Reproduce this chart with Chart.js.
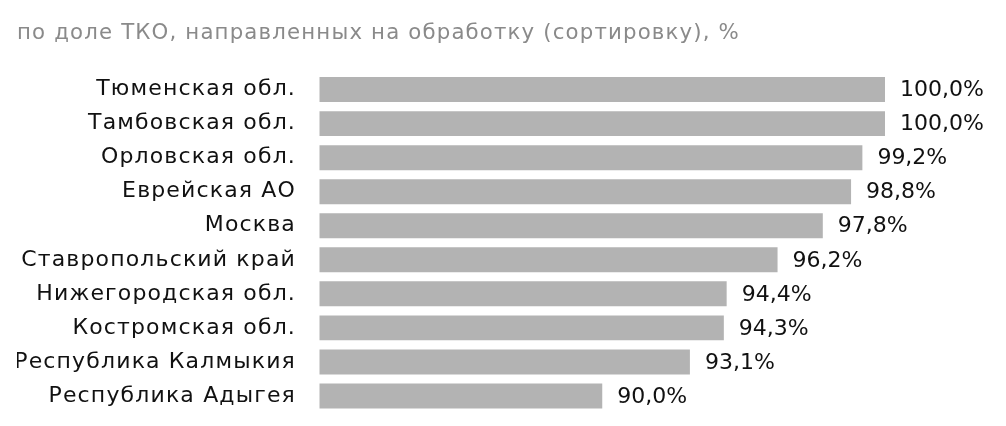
<!DOCTYPE html>
<html><head><meta charset="utf-8">
<script src="https://cdn.jsdelivr.net/npm/chart.js@4"></script>
<style>html,body{margin:0;padding:0;background:#fff;overflow:hidden}#wrap{width:1006px;height:426px;position:relative}</style>
</head><body><div id="wrap"><canvas id="c"></canvas></div>
<script>
const categories = ["Тюменская обл.","Тамбовская обл.","Орловская обл.","Еврейская АО","Москва","Ставропольский край","Нижегородская обл.","Костромская обл.","Республика Калмыкия","Республика Адыгея"];
const values = [100.0,100.0,99.2,98.8,97.8,96.2,94.4,94.3,93.1,90.0];
const titleText = "по доле ТКО, направленных на обработку (сортировку), %";

const FONT = 'DejaVu Sans';
const spacing = {
  id: 'spacing',
  beforeDraw(chart) { chart.ctx.letterSpacing = '1.15px'; },
  afterDraw(chart) { chart.ctx.letterSpacing = '0px'; }
};
const valueLabels = {
  id: 'valueLabels',
  afterDatasetsDraw(chart) {
    const ctx = chart.ctx; const meta = chart.getDatasetMeta(0);
    ctx.save(); ctx.letterSpacing = '0px'; ctx.font = '22px "'+FONT+'"'; ctx.fillStyle = '#111'; ctx.textBaseline = 'middle'; ctx.textAlign = 'left';
    meta.data.forEach((el, i) => { ctx.fillText(values[i].toFixed(1).replace('.', ',') + '%', el.x + 15, el.y + 1); });
    ctx.restore();
  }
};
new Chart(document.getElementById('c'), {
  type: 'bar',
  data: { labels: categories, datasets: [{ data: values, backgroundColor: '#b3b3b3', borderWidth: 0, barPercentage: 0.733, categoryPercentage: 1 }] },
  options: {
    indexAxis: 'y', responsive: true, maintainAspectRatio: false, animation: false,
    layout: { padding: { left: 17, right: 121, top: 0, bottom: 13 } },
    plugins: {
      legend: { display: false }, tooltip: { enabled: false },
      title: { display: true, text: titleText, align: 'start', color: '#8a8a8a', font: { family: FONT, size: 21.3, weight: 'normal', lineHeight: 1.2 }, padding: { top: 21, bottom: 26 } }
    },
    scales: {
      x: { display: false, min: 80, max: 100 },
      y: { grid: { display: false, drawTicks: false }, border: { display: false },
           ticks: { color: '#111', padding: 23.5, font: { family: FONT, size: 22 } },
           afterFit(s) { s.width = 302.5; s.paddingTop = 0; s.paddingBottom = 0; } }
    }
  },
  plugins: [spacing, valueLabels]
});
</script></body></html>
